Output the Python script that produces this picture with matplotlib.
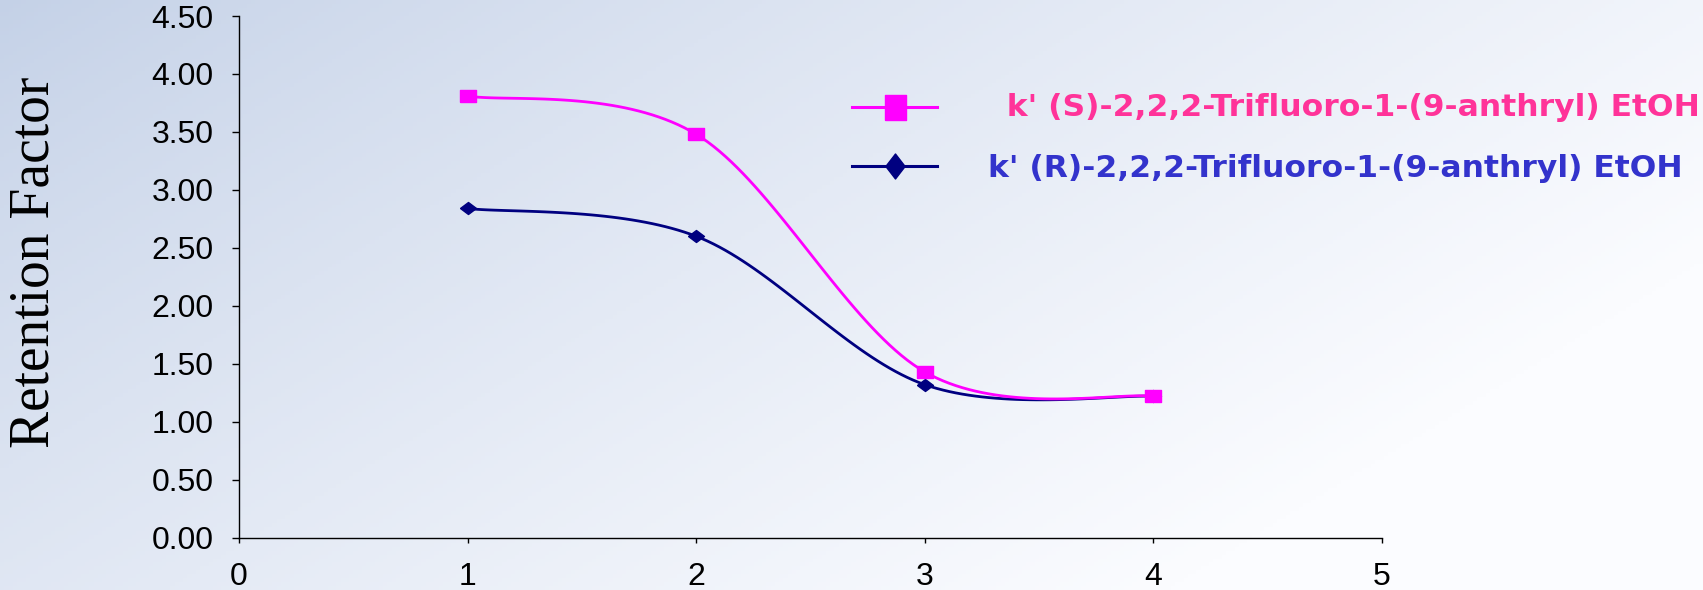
import numpy as np
import matplotlib.pyplot as plt
from matplotlib.lines import Line2D

# data
x_vals = [1, 2, 3, 4]
k_s = [3.81, 3.48, 1.43, 1.22]
k_r = [2.84, 2.60, 1.32, 1.22]
label_s = "  k' (S)-2,2,2-Trifluoro-1-(9-anthryl) EtOH"
label_r = "k' (R)-2,2,2-Trifluoro-1-(9-anthryl) EtOH"
x_ticks = [0, 1, 2, 3, 4, 5]
y_ticks = [0.0, 0.5, 1.0, 1.5, 2.0, 2.5, 3.0, 3.5, 4.0, 4.5]

col_s, txt_s = '#FF00FF', '#FF3399'
col_r, txt_r = '#000080', '#3333CC'


def smooth(xs, ys, n=40):
    # excel style smoothed line: bezier segments with catmull-rom control points
    pts = np.column_stack([xs, ys]).astype(float)
    out = [pts[:1]]
    t = np.linspace(0, 1, n)[1:, None]
    for i in range(len(pts) - 1):
        p0 = pts[max(i - 1, 0)]
        p1 = pts[i]
        p2 = pts[i + 1]
        p3 = pts[min(i + 2, len(pts) - 1)]
        c1 = p1 + (p2 - p0) / 6
        c2 = p2 - (p3 - p1) / 6
        seg = (1 - t)**3 * p1 + 3 * (1 - t)**2 * t * c1 + 3 * (1 - t) * t**2 * c2 + t**3 * p2
        out.append(seg)
    return np.vstack(out)


# slightly flattened markers like in the original
rect = [(-1, -0.75), (1, -0.75), (1, 0.75), (-1, 0.75), (-1, -0.75)]
diam = [(-1, 0), (0, 0.75), (1, 0), (0, -0.75), (-1, 0)]
rect_leg = [(-0.84, -1), (0.84, -1), (0.84, 1), (-0.84, 1), (-0.84, -1)]
diam_leg = [(-0.77, 0), (0, 1), (0.77, 0), (0, -1), (-0.77, 0)]

W, H = 1703, 590
fig = plt.figure(figsize=(W / 100, H / 100), dpi=100)

# background gradient
bg = fig.add_axes([0, 0, 1, 1], zorder=-10)
gx, gy = np.meshgrid(np.linspace(0, 1, 400), np.linspace(0, 1, 150))
tt = np.clip(0.8 * gx + 0.45 * gy, 0, 1) ** 0.85
c0 = np.array([196, 209, 231]) / 255
c1 = np.array([251, 252, 255]) / 255
img = c0[None, None, :] * (1 - tt[..., None]) + c1[None, None, :] * tt[..., None]
bg.imshow(img, aspect='auto', extent=[0, 1, 0, 1], origin='upper')
bg.axis('off')

ax = fig.add_axes([239 / W, 1 - 537.7 / H, 1143 / W, 521.7 / H])
ax.patch.set_alpha(0)

xs, ys = smooth(x_vals, k_s).T
ax.plot(xs, ys, color=col_s, lw=2.0, zorder=3)
ax.plot(x_vals, k_s, ls='none', marker=rect, ms=11.5, color=col_s, zorder=4)

xr, yr = smooth(x_vals, k_r).T
ax.plot(xr, yr, color=col_r, lw=2.0, zorder=2)
ax.plot(x_vals, k_r, ls='none', marker=diam, ms=11.5, color=col_r, zorder=2)

ax.set_xlim(0, 5)
ax.set_ylim(0, 4.5)
ax.set_xticks(x_ticks)
ax.set_yticks(y_ticks)
ax.set_yticklabels([f'{v:.2f}' for v in y_ticks])
for s in ['top', 'right']:
    ax.spines[s].set_visible(False)
for s in ['left', 'bottom']:
    ax.spines[s].set_linewidth(1.0)
ax.tick_params(axis='y', length=5, width=1.0, pad=13.5, labelsize=23)
ax.tick_params(axis='x', length=3.5, width=1.0, pad=14, labelsize=23)
for lab in ax.get_xticklabels() + ax.get_yticklabels():
    lab.set_family('Liberation Sans')

fig.text(35 / W, 1 - 262 / H, 'Retention Factor', rotation=90, ha='center', va='center',
         family='Liberation Serif', fontsize=40)

# legend drawn by hand
for yl, col, mk, txt, tcol, tx, tb in [
        (106.7, col_s, rect_leg, label_s, txt_s, 985, 116),
        (165.7, col_r, diam_leg, label_r, txt_r, 988, 177)]:
    fig.add_artist(Line2D([852 / W, 894.5 / W, 937 / W], [1 - yl / H] * 3, color=col, lw=2.2,
                          marker=mk, ms=18, markevery=[1], transform=fig.transFigure))
    fig.text(tx / W, 1 - tb / H, txt, color=tcol, fontsize=22.6, fontweight='bold',
             family='DejaVu Sans', ha='left', va='baseline')

fig.savefig('out.png', dpi=100)
